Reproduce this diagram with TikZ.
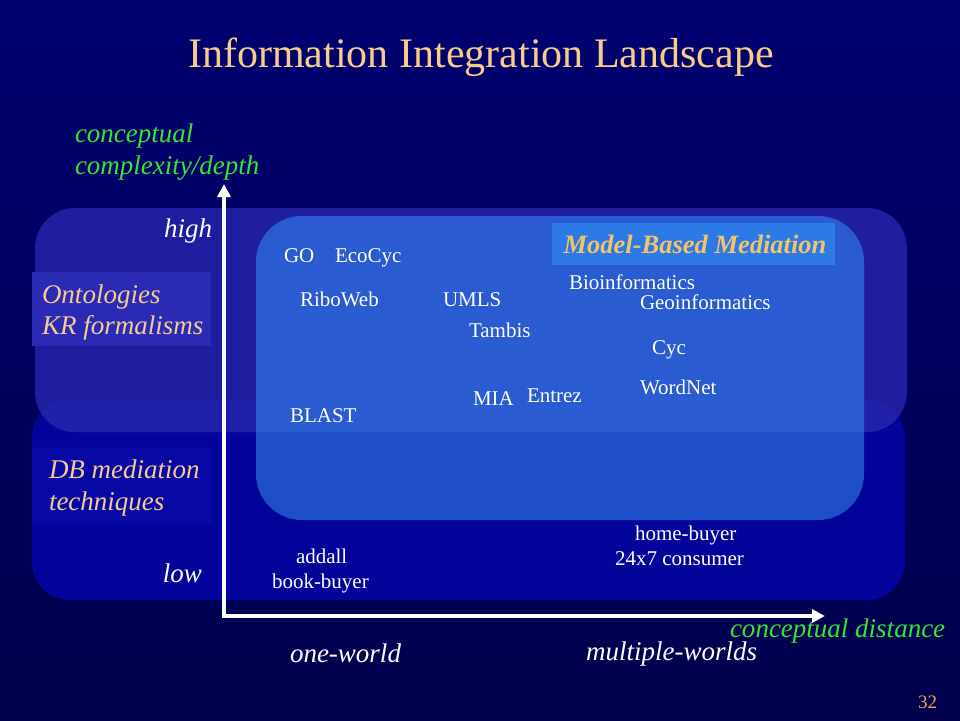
\documentclass[tikz,border=0pt]{standalone}
\usepackage{fontspec}
\setmainfont{Liberation Serif}
\usetikzlibrary{arrows.meta}
\definecolor{bgtop}{HTML}{000070}
\definecolor{bgbot}{HTML}{00004C}
\definecolor{lowband}{HTML}{04049A}
\definecolor{upband}{HTML}{1E1E9E}
\definecolor{overband}{HTML}{2020AA}
\definecolor{modelhigh}{HTML}{2A5BD0}
\definecolor{modellow}{HTML}{1E4EC8}
\definecolor{labelbox}{HTML}{2D79E5}
\definecolor{ontobox}{HTML}{2A2AB4}
\definecolor{dbbox}{HTML}{0808A4}
\definecolor{titlecol}{HTML}{F9CC8A}
\definecolor{tancol}{HTML}{F5CB92}
\definecolor{mbmcol}{HTML}{F2C46A}
\definecolor{greencol}{HTML}{33E633}
\definecolor{numcol}{HTML}{E8A060}
\begin{document}
\begin{tikzpicture}[x=1pt,y=-1pt,
  txt/.style={anchor=base west,inner sep=0pt,outer sep=0pt},
  item/.style={txt,text=white,font=\fontsize{21}{25}\selectfont},
  ital/.style={txt,font=\fontsize{27}{32}\selectfont\itshape},
  axisline/.style={white,line width=4pt,-{Triangle[length=13pt,width=13pt]}}]
\useasboundingbox (0,0) rectangle (960,720);
\shade[top color=bgtop,bottom color=bgbot] (0,0) rectangle (960,720);
% bands
\fill[lowband,rounded corners=38pt] (32,400) rectangle (905,600);
\fill[upband,rounded corners=40pt] (35,208) rectangle (907,432);
\begin{scope}
  \clip[rounded corners=38pt] (32,400) rectangle (905,600);
  \fill[overband,rounded corners=40pt] (35,208) rectangle (907,432);
\end{scope}
% model box
\fill[modellow,rounded corners=46pt] (256,216) rectangle (864,520);
\begin{scope}
  \clip[rounded corners=40pt] (35,208) rectangle (907,432);
  \fill[modelhigh,rounded corners=46pt] (256,216) rectangle (864,520);
\end{scope}
% label boxes
\fill[labelbox] (552,223) rectangle (835,265);
\fill[ontobox] (32,272) rectangle (211,346);
\fill[dbbox] (32,447) rectangle (212,523);
% title
\node[txt,anchor=base,text=titlecol,font=\fontsize{42}{48}\selectfont] (title) at (481,67) {Information Integration Landscape};
% axes
\coordinate (orig) at (224,616);
\coordinate (ytop) at (224,184);
\coordinate (xend) at (825,616);
\draw[axisline] (orig) -- (ytop);
\draw[axisline] ([xshift=-2pt]orig) -- (xend);
% axis labels
\node[ital,text=greencol] (cc1) at (75,142) {conceptual};
\node[ital,text=greencol] (cc2) at (75,174) {complexity/depth};
\node[ital,text=greencol] (cd) at (730,637) {conceptual distance};
\node[ital,text=white,anchor=base east] (high) at (212,237) {high};
\node[ital,text=white,anchor=base east] (low) at (202,582) {low};
\node[ital,text=white] (ow) at (290,662) {one-world};
\node[ital,text=white] (mw) at (586,660) {multiple-worlds};
\node[ital,text=tancol] (onto1) at (42,303) {Ontologies};
\node[ital,text=tancol] (onto2) at (42,334) {KR formalisms};
\node[ital,text=tancol] (db1) at (49,478) {DB mediation};
\node[ital,text=tancol] (db2) at (49,510) {techniques};
\node[txt,text=mbmcol,font=\fontsize{26.5}{30}\selectfont\bfseries\itshape,anchor=base] (mbm) at (695,253) {Model-Based Mediation};
% items
\node[item] (go) at (284,262) {GO};
\node[item] (ecocyc) at (335,262) {EcoCyc};
\node[item] (riboweb) at (300,306) {RiboWeb};
\node[item] (umls) at (443,306) {UMLS};
\node[item] (tambis) at (469,337) {Tambis};
\node[item] (mia) at (473,405) {MIA};
\node[item] (entrez) at (527,402) {Entrez};
\node[item] (blast) at (290,422) {BLAST};
\node[item] (bioinf) at (569,289) {Bioinformatics};
\node[item] (geoinf) at (640,309) {Geoinformatics};
\node[item] (cyc) at (652,354) {Cyc};
\node[item] (wordnet) at (640,394) {WordNet};
\node[item] (homebuyer) at (635,540) {home-buyer};
\node[item] (consumer) at (615,565) {24x7 consumer};
\node[item] (addall) at (296,563) {addall};
\node[item] (bookbuyer) at (272,588) {book-buyer};
\node[txt,text=numcol,font=\fontsize{19}{22}\selectfont] (pagenum) at (918,708) {32};
\end{tikzpicture}
\end{document}
